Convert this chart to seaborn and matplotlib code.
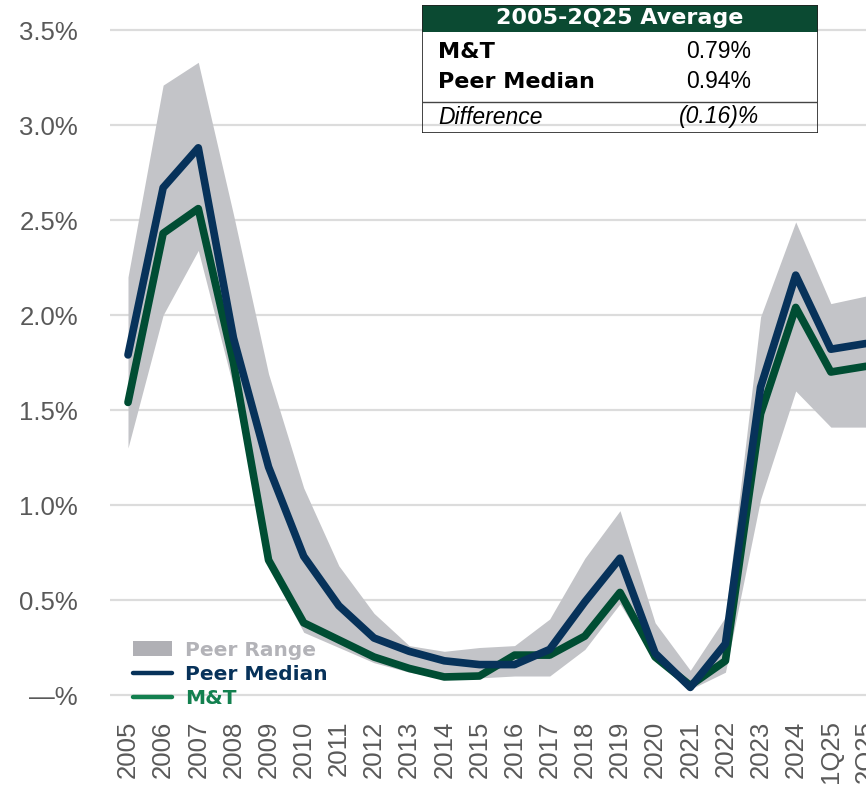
import numpy as np
import pandas as pd
import seaborn as sns
import matplotlib
matplotlib.use("Agg")
import matplotlib.pyplot as plt
from matplotlib.patches import Rectangle, Patch
from matplotlib.lines import Line2D

categories = ["2005", "2006", "2007", "2008", "2009", "2010", "2011", "2012",
              "2013", "2014", "2015", "2016", "2017", "2018", "2019", "2020",
              "2021", "2022", "2023", "2024", "1Q25", "2Q25"]
peer_median = [1.79, 2.67, 2.88, 1.88, 1.20, 0.73, 0.47, 0.30, 0.23, 0.18, 0.16,
               0.16, 0.24, 0.49, 0.72, 0.22, 0.04, 0.27, 1.62, 2.21, 1.82, 1.85]
mt = [1.54, 2.43, 2.56, 1.75, 0.71, 0.38, 0.29, 0.20, 0.14, 0.095, 0.10,
      0.21, 0.21, 0.31, 0.54, 0.20, 0.05, 0.18, 1.48, 2.04, 1.70, 1.73]
peer_high = [2.20, 3.21, 3.33, 2.53, 1.69, 1.09, 0.68, 0.43, 0.26, 0.23, 0.25,
             0.26, 0.40, 0.72, 0.97, 0.38, 0.13, 0.41, 1.99, 2.49, 2.06, 2.10]
peer_low = [1.30, 2.00, 2.34, 1.62, 0.68, 0.33, 0.25, 0.17, 0.12, 0.09, 0.09,
            0.10, 0.10, 0.24, 0.48, 0.18, 0.03, 0.12, 1.03, 1.60, 1.41, 1.41]

table_rows = [("M&T", "0.79%"), ("Peer Median", "0.94%")]
table_diff = ("Difference", "(0.16)%")
table_title = "2005-2Q25 Average"

NAVY = "#07325a"
GREEN = "#004d33"
FILL = "#c3c4c8"
TEXT = "#595959"

sns.set_theme(style="white")
plt.rcParams["font.family"] = ["Liberation Sans", "DejaVu Sans"]

W, H = 866, 786
fig = plt.figure(figsize=(W / 100, H / 100), dpi=100)
ax = fig.add_axes([110 / W, 1 - 705 / H, 756 / W, 705 / H])

x = np.arange(len(categories))
df = pd.DataFrame({"x": x, "median": peer_median, "mt": mt})

ax.fill_between(x, peer_low, peer_high, color=FILL, lw=0, zorder=1)
sns.lineplot(data=df, x="x", y="mt", color=GREEN, lw=5.5, sort=False, ax=ax, zorder=3)
sns.lineplot(data=df, x="x", y="median", color=NAVY, lw=5.5, sort=False, ax=ax, zorder=4)

ax.set_xlim(-0.512, 21.0)
ax.set_ylim(-0.0526, 3.658)
yt = [0, 0.5, 1.0, 1.5, 2.0, 2.5, 3.0, 3.5]
ax.set_yticks(yt, ["\u2014%"] + [f"{v:.1f}%" for v in yt[1:]])
ax.set_xticks(x, categories, rotation=90)
ax.tick_params(axis="both", length=0, labelsize=18.5, labelcolor=TEXT)
ax.tick_params(axis="y", pad=23)
ax.tick_params(axis="x", pad=11)
ax.yaxis.grid(True, color="#dcdcdc", lw=1.6, zorder=0)
ax.xaxis.grid(False)
ax.set_xlabel("")
ax.set_ylabel("")
for s in ax.spines.values():
    s.set_visible(False)

# legend
handles = [Patch(facecolor="#b0b0b5", edgecolor="none"),
           Line2D([], [], color=NAVY, lw=3.2),
           Line2D([], [], color="#13804f", lw=3.2)]
leg = ax.legend(handles, ["Peer Range", "Peer Median", "M&T"],
                loc="lower left", bbox_to_anchor=(133 / W, 1 - 708 / H),
                bbox_transform=fig.transFigure, frameon=False, borderpad=0,
                borderaxespad=0, handlelength=1.95, handleheight=0.75,
                handletextpad=0.65, labelspacing=0.26,
                prop={"family": "DejaVu Sans", "weight": "bold", "size": 14.5})
for t, c in zip(leg.get_texts(), ["#b3b3b8", NAVY, "#13804f"]):
    t.set_color(c)

# summary table
tab = fig.add_axes([422 / W, 1 - 133 / H, 396 / W, 128 / H])
tab.set_xlim(0, 396)
tab.set_ylim(128, 0)
tab.axis("off")
tab.add_patch(Rectangle((0, 0), 396, 27, facecolor="#0b4a32", edgecolor="none"))
tab.add_patch(Rectangle((0, 0), 396, 128, facecolor="none", edgecolor="#222222", lw=1.2))
tab.plot([0, 396], [97, 97], color="#444444", lw=1)
tab.text(198, 13.5, table_title, color="white", ha="center", va="center",
         fontsize=16, fontweight="bold", family="DejaVu Sans")
for (lab, val), yy in zip(table_rows, [47, 77]):
    tab.text(16, yy, lab, ha="left", va="center", fontsize=16, fontweight="bold",
             family="DejaVu Sans", color="black")
    tab.text(297, yy, val, ha="center", va="center", fontsize=16.5, color="black")
tab.text(16, 112, table_diff[0], ha="left", va="center", fontsize=16.5,
         style="italic", color="black")
tab.text(297, 112, table_diff[1], ha="center", va="center", fontsize=16.5,
         style="italic", color="black")

fig.savefig("out.png", dpi=100)
